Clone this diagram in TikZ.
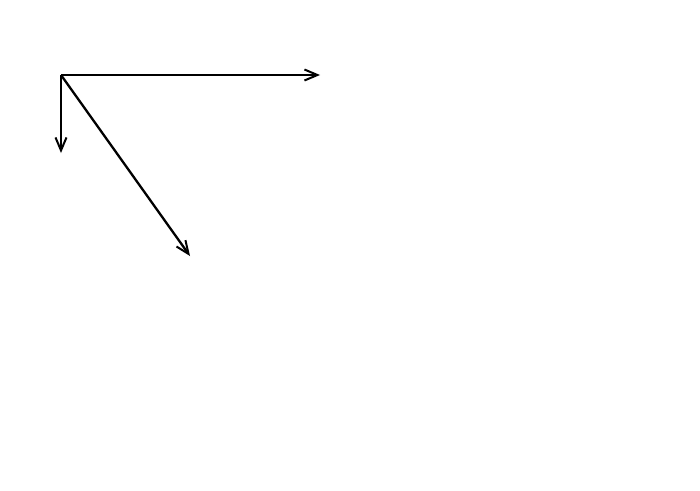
\documentclass[tikz,border=0pt]{standalone}
\usetikzlibrary{arrows.meta}
\begin{document}
\begin{tikzpicture}[x=1pt,y=-1pt,
  vec/.style={line width=2.3pt,-{Straight Barb[length=13pt,width=11pt,line width=2pt]}}]
\useasboundingbox[fill=white] (0,0) rectangle (700,490);
\coordinate (o) at (61,75);
\coordinate (a) at (320,75);
\coordinate (b) at (61,153);
\coordinate (c) at (190,256);
\draw[vec] (o) -- (a);
\draw[vec] (o) -- (b);
\draw[vec] (o) -- (c);
\end{tikzpicture}
\end{document}
